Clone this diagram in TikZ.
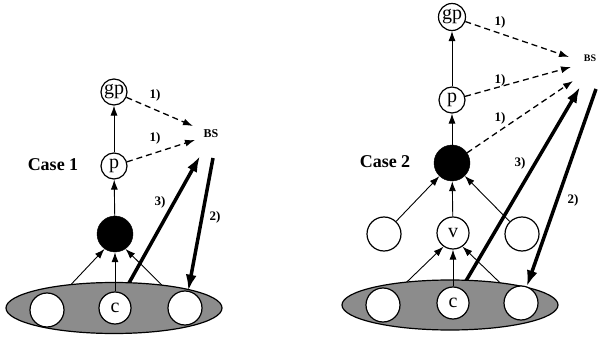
\documentclass[tikz,border=0pt]{standalone}
\usepackage{fontspec}
\setmainfont{Liberation Serif}
\usetikzlibrary{arrows.meta,shapes.geometric}
\pgfdeclarelayer{paper}
\pgfdeclarelayer{bg}
\pgfsetlayers{paper,bg,main}
\begin{document}
\begin{tikzpicture}[x=1pt,y=-1pt,
 circ/.style={circle,draw,fill=white,line width=1.2pt,inner sep=0pt,font=\fontsize{20}{20}\selectfont},
 smallc/.style={circ,minimum size=26pt},
 bigc/.style={circ,minimum size=34pt},
 blackdot/.style={circle,fill=black,draw,minimum size=36pt,inner sep=0pt},
 grp/.style={ellipse,draw,fill=black!45,line width=1.2pt,minimum width=216pt,minimum height=51pt,inner sep=0pt},
 thinarrow/.style={-{Latex[length=10pt,width=7pt]},line width=0.9pt},
 dasharrow/.style={-{Latex[length=10pt,width=7pt]},line width=1.3pt,dash pattern=on 6pt off 4pt},
 bigarrow/.style={-{Latex[length=16pt,width=11pt]},line width=3.5pt},
 lab/.style={font=\bfseries\fontsize{13}{13}\selectfont},
 casetxt/.style={font=\bfseries\fontsize{18}{18}\selectfont},
 bslab/.style={font=\bfseries\fontsize{12}{12}\selectfont}]
\useasboundingbox (0,0) rectangle (600,342);
\begin{pgfonlayer}{paper}
\fill[white] (0,0) rectangle (600,342);
\end{pgfonlayer}

% ---------- Case 1 ----------
\node[grp] (e1) at (114,308) {};
\node[smallc] (gp1) at (114,92) {gp};
\node[smallc] (p1) at (114,166) {p};
\node[blackdot] (k1) at (115,234) {};
\node[bigc] (b11) at (47,310) {};
\node[bigc,minimum size=32pt] (c1) at (115,308) {c};
\node[bigc] (b13) at (185,308) {};
\node[bslab] (bs1) at (211,134) {BS};
\node[casetxt] (case1) at (53,165) {Case 1};
\coordinate (t11) at (193,126);
\coordinate (t12) at (195,140);
\coordinate (t13) at (200,156);
\coordinate (s12) at (213,158);

\draw[thinarrow] (p1) -- (gp1);
\draw[thinarrow] (k1) -- (p1);
\draw[thinarrow] (c1) -- (k1);
\begin{pgfonlayer}{bg}
\draw[thinarrow] (b11.center) -- (k1.235);
\draw[thinarrow] (b13.center) -- (k1.305);
\draw[bigarrow] (c1.center) -- (t13);
\end{pgfonlayer}
\draw[dasharrow] (gp1) -- (t11);
\draw[dasharrow] (p1) -- (t12);
\draw[bigarrow] (s12) -- (b13);
\node[lab] (l11) at (155,95) {1)};
\node[lab] (l12) at (155,138) {1)};
\node[lab] (l13) at (160,202) {3)};
\node[lab] (l14) at (215,217) {2)};

% ---------- Case 2 ----------
\node[grp,minimum height=50pt] (e2) at (450,305) {};
\node[smallc,minimum size=27pt] (gp2) at (452,17) {gp};
\node[smallc] (p2) at (452,100) {p};
\node[blackdot] (k2) at (452,163) {};
\node[bigc] (m21) at (384,234) {};
\node[bigc,minimum size=32pt] (v2) at (453,233) {v};
\node[bigc] (m23) at (522,234) {};
\node[bigc] (b21) at (383,305) {};
\node[bigc,minimum size=32pt] (c2) at (453,303) {c};
\node[bigc] (b23) at (521,303) {};
\node[bslab,font=\bfseries\fontsize{10}{10}\selectfont] (bs2) at (590,58) {BS};
\node[casetxt] (case2) at (385,162) {Case 2};
\coordinate (t21) at (569,57);
\coordinate (t22) at (571,67);
\coordinate (t23) at (573,81);
\coordinate (t24) at (580,87);
\coordinate (s22) at (596,89);

\draw[thinarrow] (p2) -- (gp2);
\draw[thinarrow] (k2) -- (p2);
\draw[thinarrow] (m21) -- (k2);
\draw[thinarrow] (v2) -- (k2);
\draw[thinarrow] (m23) -- (k2);
\draw[thinarrow] (c2) -- (v2);
\begin{pgfonlayer}{bg}
\draw[thinarrow] (b21.center) -- (v2.235);
\draw[thinarrow] (b23.center) -- (v2.305);
\draw[bigarrow] (c2.center) -- (t24);
\end{pgfonlayer}
\draw[dasharrow] (gp2) -- (t21);
\draw[dasharrow] (p2) -- (t22);
\draw[dasharrow] (k2) -- (t23);
\draw[bigarrow] (s22) -- (b23);
\node[lab] (l21) at (500,22) {1)};
\node[lab] (l22) at (500,80) {1)};
\node[lab] (l23) at (500,118) {1)};
\node[lab] (l24) at (520,163) {3)};
\node[lab] (l25) at (573,200) {2)};
\end{tikzpicture}
\end{document}
